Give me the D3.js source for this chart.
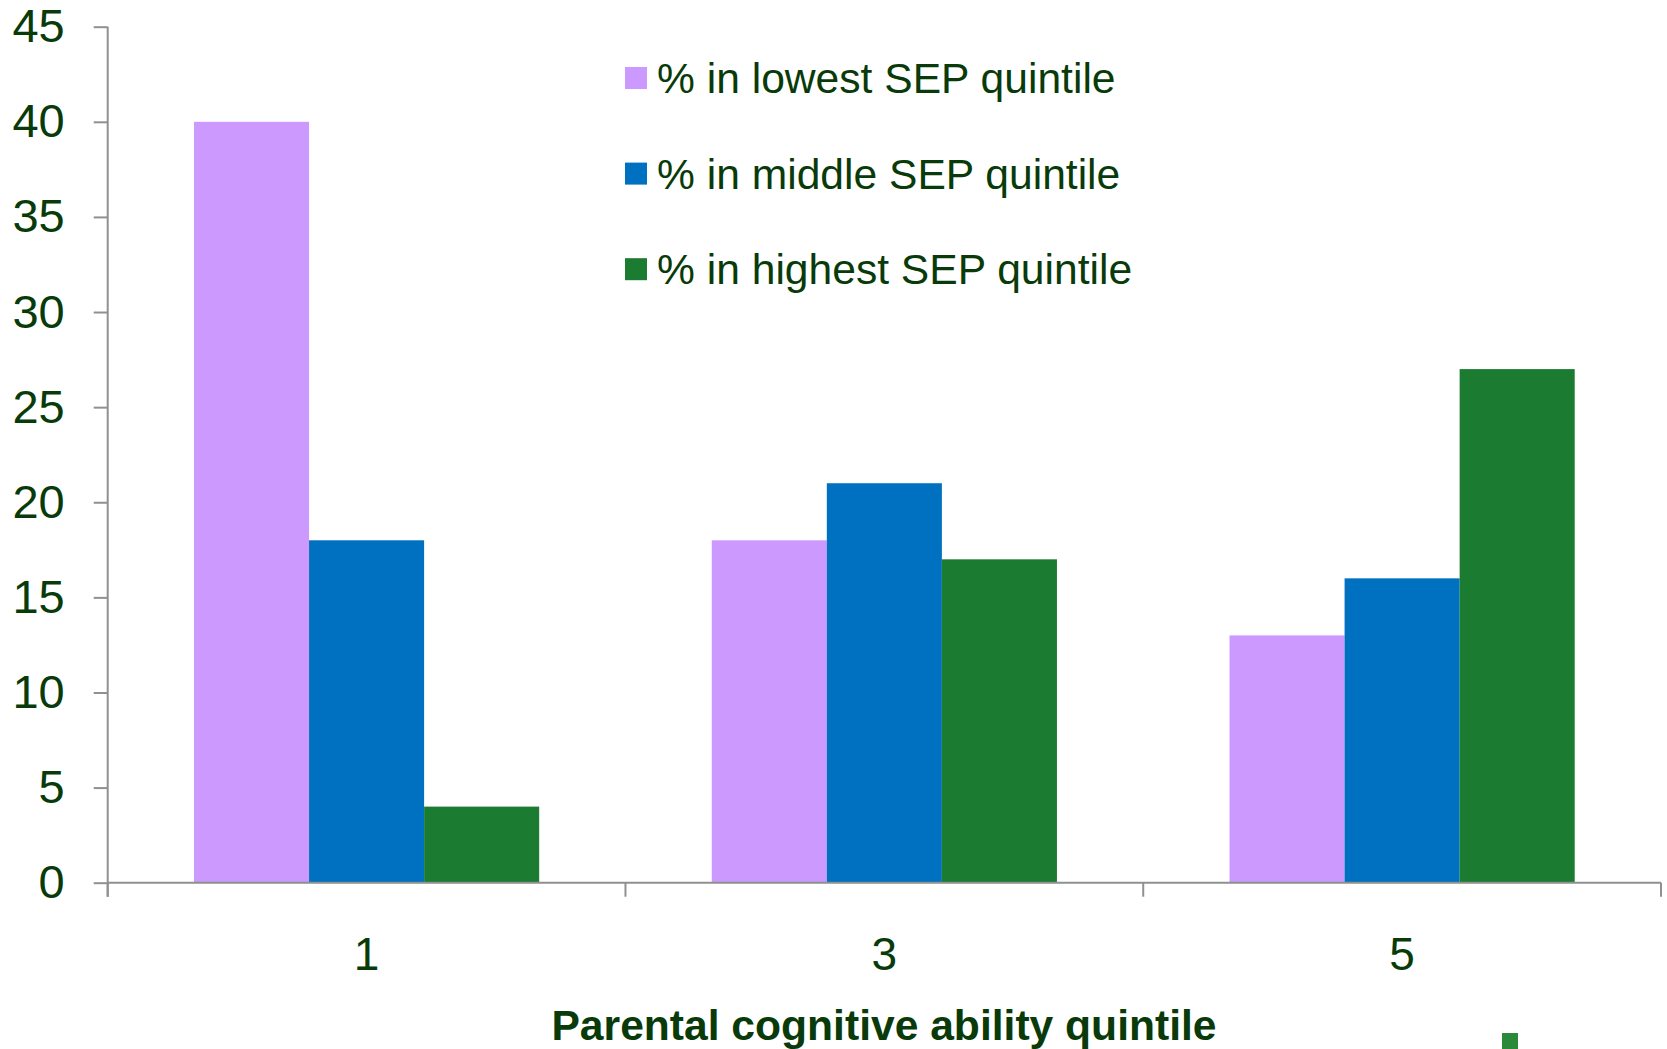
<!DOCTYPE html>
<html>
<head>
<meta charset="utf-8">
<script src="https://cdn.jsdelivr.net/npm/d3@7"></script>
<style>
  html, body { margin: 0; padding: 0; background: #fff; }
  svg { display: block; font-family: "Liberation Sans", Arial, sans-serif; }
</style>
</head>
<body>
<svg id="chart" width="1667" height="1049"></svg>
<script>
// Parental cognitive ability quintile (categories on the x axis)
const categories = ["1", "3", "5"];
// Series: share of children in each socioeconomic position (SEP) quintile
const seriesNames = ["% in lowest SEP quintile", "% in middle SEP quintile", "% in highest SEP quintile"];
const lowestSEP  = [40, 18, 13];
const middleSEP  = [18, 21, 16];
const highestSEP = [4, 17, 27];
const seriesColors = ["#cc99ff", "#0070c0", "#1b7b31"];
const yTicks = [0, 5, 10, 15, 20, 25, 30, 35, 40, 45];
const xTitle = "Parental cognitive ability quintile";

(function drawChart() {
  const seriesValues = [lowestSEP, middleSEP, highestSEP];
  const textColor = "#093a09";
  const axisColor = "#8e918e";

  const svg = d3.select("#chart");
  const plotLeft = 107.7, plotRight = 1661, plotTop = 26.7, plotBottom = 882.7;

  const x0 = d3.scaleBand().domain(categories).range([plotLeft, plotRight])
    .paddingInner(1 / 3).paddingOuter(1 / 6);
  const x1 = d3.scaleBand().domain(d3.range(seriesNames.length))
    .range([0, x0.bandwidth()]);
  const y = d3.scaleLinear().domain([0, 45]).range([plotBottom, plotTop]);

  // Bars
  const groups = svg.append("g").selectAll("g")
    .data(categories)
    .join("g")
    .attr("transform", c => `translate(${x0(c)},0)`);

  groups.selectAll("rect")
    .data((c, ci) => seriesValues.map((vals, si) => ({ si, v: vals[ci] })))
    .join("rect")
    .attr("x", d => x1(d.si))
    .attr("width", x1.bandwidth())
    .attr("y", d => y(d.v))
    .attr("height", d => y(0) - y(d.v))
    .attr("fill", d => seriesColors[d.si]);

  // Y axis
  const yAxis = svg.append("g")
    .attr("transform", `translate(${plotLeft},0)`)
    .call(d3.axisLeft(y).tickValues(yTicks).tickSize(14).tickPadding(29).tickSizeOuter(0));
  yAxis.select(".domain").remove();
  yAxis.append("line")
    .attr("x1", 0).attr("x2", 0)
    .attr("y1", plotTop).attr("y2", plotBottom + 14)
    .attr("stroke", axisColor).attr("stroke-width", 2);
  yAxis.selectAll(".tick line").attr("stroke", axisColor).attr("stroke-width", 2);
  yAxis.selectAll(".tick text")
    .attr("fill", textColor)
    .attr("font-size", 47)
    .attr("font-family", "Liberation Sans, Arial, sans-serif");

  // X axis: baseline with ticks at category boundaries
  const xAxis = svg.append("g");
  xAxis.append("line")
    .attr("x1", plotLeft).attr("x2", plotRight)
    .attr("y1", y(0)).attr("y2", y(0))
    .attr("stroke", axisColor).attr("stroke-width", 2);
  const step = x0.step();
  const boundaries = d3.range(categories.length + 1).map(i => plotLeft + i * step);
  xAxis.selectAll("line.bt")
    .data(boundaries)
    .join("line")
    .attr("class", "bt")
    .attr("x1", d => d).attr("x2", d => d)
    .attr("y1", y(0)).attr("y2", y(0) + 14)
    .attr("stroke", axisColor).attr("stroke-width", 2);
  xAxis.selectAll("text")
    .data(categories)
    .join("text")
    .attr("x", c => x0(c) + x0.bandwidth() / 2)
    .attr("y", 970)
    .attr("text-anchor", "middle")
    .attr("fill", textColor)
    .attr("font-size", 46)
    .text(c => c);

  // X axis title
  svg.append("text")
    .attr("x", 884)
    .attr("y", 1040)
    .attr("text-anchor", "middle")
    .attr("fill", textColor)
    .attr("font-size", 42.6)
    .attr("font-weight", "bold")
    .text(xTitle);

  // Legend
  const legend = svg.append("g").attr("transform", "translate(625,67)");
  const items = legend.selectAll("g")
    .data(seriesNames)
    .join("g")
    .attr("transform", (d, i) => `translate(0,${i * 95.6})`);
  items.append("rect")
    .attr("width", 22).attr("height", 22)
    .attr("fill", (d, i) => seriesColors[i]);
  items.append("text")
    .attr("x", 32)
    .attr("y", 26)
    .attr("fill", textColor)
    .attr("font-size", 42.6)
    .text(d => d);

  // Small key marker near the bottom edge
  svg.append("rect")
    .attr("x", 1502).attr("y", 1033)
    .attr("width", 16).attr("height", 16)
    .attr("fill", "#2a8a3a");
})();
</script>
</body>
</html>
